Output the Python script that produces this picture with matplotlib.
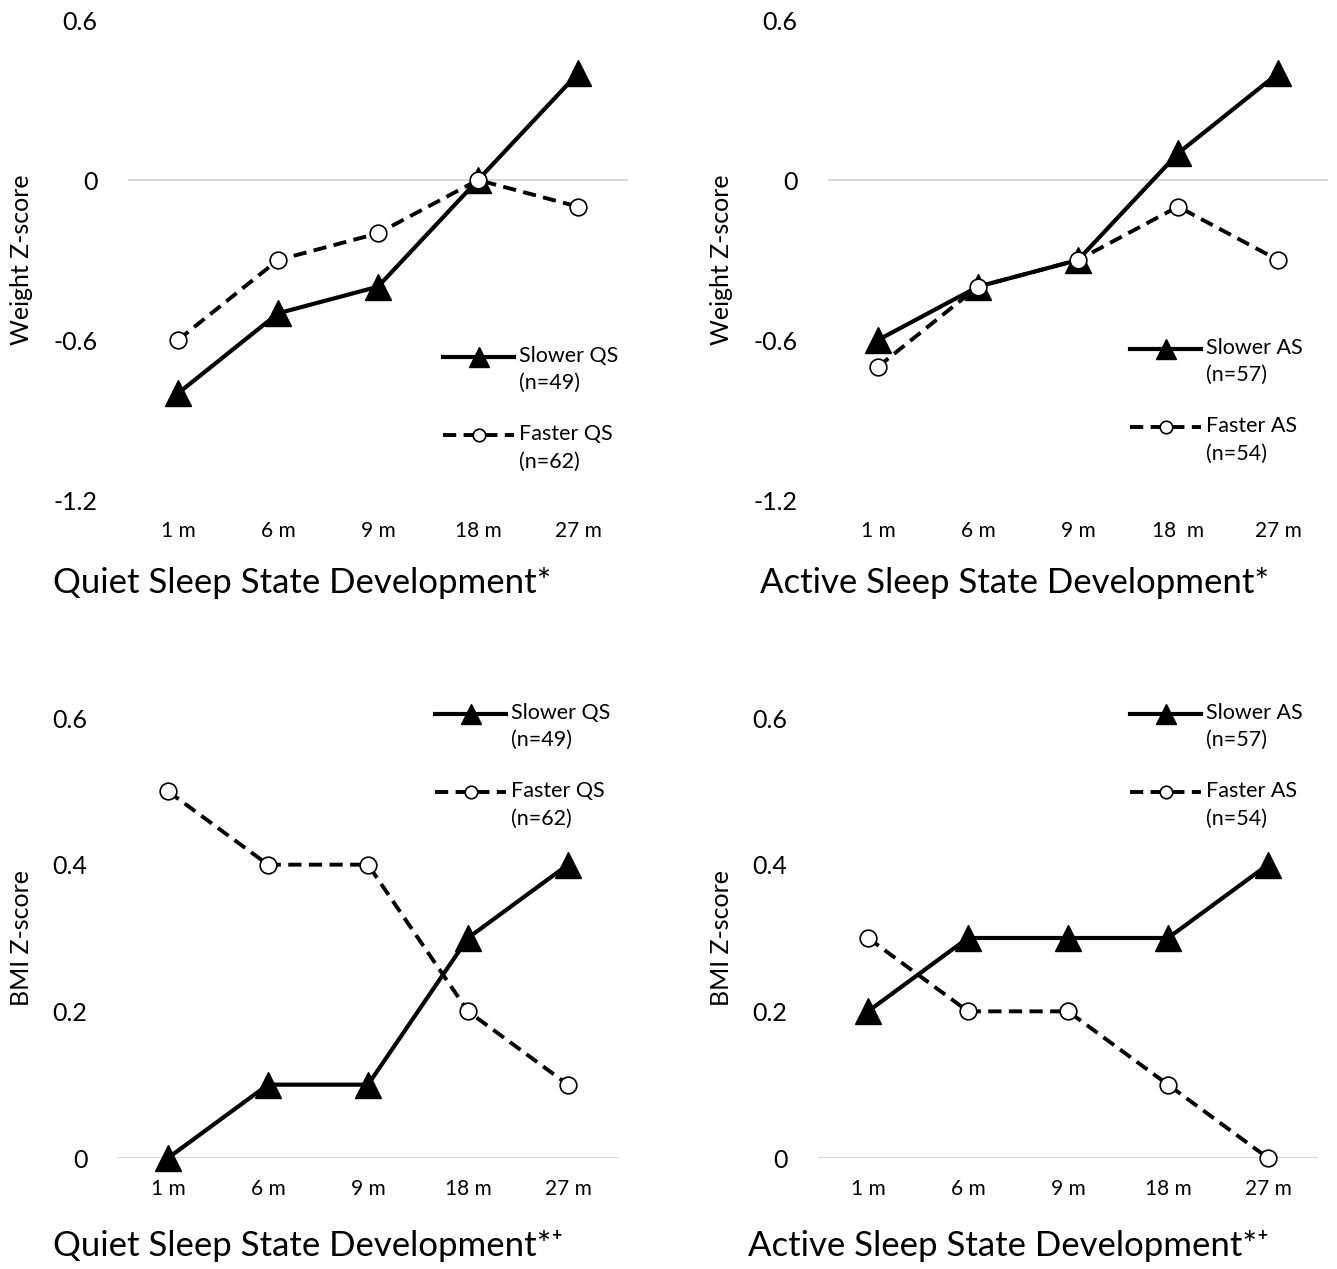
#! /usr/bin/env python3
# -*- coding: utf-8 -*-
"""Weight and BMI z-scores by sleep state development group, four panels."""

import matplotlib
matplotlib.use('Agg')
import matplotlib.pyplot as plt
from matplotlib.legend_handler import HandlerLine2D

plt.rcParams['font.family'] = ['Lato', 'DejaVu Sans']

months = ['1 m', '6 m', '9 m', '18 m', '27 m']
months_as_top = ['1 m', '6 m', '9 m', '18  m', '27 m']

# weight z-score
weight_slower_qs = [-0.8, -0.5, -0.4, 0.0, 0.4]
weight_faster_qs = [-0.6, -0.3, -0.2, 0.0, -0.1]
weight_slower_as = [-0.6, -0.4, -0.3, 0.1, 0.4]
weight_faster_as = [-0.7, -0.4, -0.3, -0.1, -0.3]

# BMI z-score
bmi_slower_qs = [0.0, 0.1, 0.1, 0.3, 0.4]
bmi_faster_qs = [0.5, 0.4, 0.4, 0.2, 0.1]
bmi_slower_as = [0.2, 0.3, 0.3, 0.3, 0.4]
bmi_faster_as = [0.3, 0.2, 0.2, 0.1, 0.0]

weight_ticks = [0.6, 0, -0.6, -1.2]
weight_ticklabels = ['0.6', '0', '-0.6', '-1.2']
bmi_ticks = [0, 0.2, 0.4, 0.6]
bmi_ticklabels = ['0', '0.2', '0.4', '0.6']

W, H = 1337, 1269
fig = plt.figure(figsize=(W / 100, H / 100), dpi=100)
LEG_FS = 15.5


class FirstLineHandler(HandlerLine2D):
    # put the legend line next to the first text line, not the middle
    def create_artists(self, legend, orig_handle, xdescent, ydescent, width,
                       height, fontsize, trans):
        arts = super().create_artists(legend, orig_handle, xdescent, ydescent,
                                      width, height, fontsize, trans)
        for a in arts:
            a.set_ydata([y + 0.62 * fontsize for y in a.get_ydata()])
        return arts


def box(x0, x1, ytop, ybot):
    return [x0 / W, 1 - ybot / H, (x1 - x0) / W, (ybot - ytop) / H]


def panel(rect, xlabels, slower, faster, lab_s, lab_f, ylim, ticks, ticklabels,
          ylabel, ylab_x, leg_xy):
    ax = fig.add_axes(rect)
    x = range(len(xlabels))
    ax.axhline(0, color='#d0d0d0', lw=1.2, zorder=0)
    ax.plot(x, slower, color='black', lw=3.0, marker='^', ms=19,
            markerfacecolor='black', label=lab_s, zorder=3, clip_on=False)
    ax.plot(x, faster, color='black', lw=2.8, ls=(0, (3.4, 1.9)), marker='o', ms=12,
            markerfacecolor='white', markeredgewidth=1.2, label=lab_f, zorder=4,
            clip_on=False)
    ax.set_xlim(-0.5, len(xlabels) - 0.5)
    ax.set_ylim(*ylim)
    ax.set_xticks(list(x))
    ax.set_xticklabels(xlabels, fontsize=15)
    ax.set_yticks(ticks)
    ax.set_yticklabels(ticklabels, fontsize=18)
    ax.tick_params(axis='x', length=0, pad=15)
    ax.tick_params(axis='y', length=0, pad=22)
    for s in ax.spines.values():
        s.set_visible(False)
    ax.set_ylabel(ylabel, fontsize=18)
    ax.yaxis.set_label_coords(ylab_x, 0.5)
    leg = ax.legend(loc='upper left', bbox_to_anchor=(leg_xy[0] / W, 1 - leg_xy[1] / H),
                    bbox_transform=fig.transFigure, frameon=False, fontsize=LEG_FS,
                    handlelength=3.3, handletextpad=0.25, labelspacing=1.45,
                    borderpad=0, borderaxespad=0,
                    handler_map={matplotlib.lines.Line2D: FirstLineHandler()})
    for t in leg.get_texts():
        t.set_linespacing(1.45)
    for h in leg.legend_handles:
        h.set_markersize(h.get_markersize() * 0.75)
    return ax


panel(box(128, 628, 20, 500), months, weight_slower_qs, weight_faster_qs,
      'Slower QS\n(n=49)', 'Faster QS\n(n=62)', (-1.2, 0.6), weight_ticks,
      weight_ticklabels, 'Weight Z-score', -0.19, (443, 346))
panel(box(828, 1328, 20, 500), months_as_top, weight_slower_as, weight_faster_as,
      'Slower AS\n(n=57)', 'Faster AS\n(n=54)', (-1.2, 0.6), weight_ticks,
      weight_ticklabels, 'Weight Z-score', -0.19, (1130, 338))
panel(box(118, 618, 718, 1158), months, bmi_slower_qs, bmi_faster_qs,
      'Slower QS\n(n=49)', 'Faster QS\n(n=62)', (0, 0.6), bmi_ticks,
      bmi_ticklabels, 'BMI Z-score', -0.17, (435, 703))
panel(box(818, 1318, 718, 1158), months, bmi_slower_as, bmi_faster_as,
      'Slower AS\n(n=57)', 'Faster AS\n(n=54)', (0, 0.6), bmi_ticks,
      bmi_ticklabels, 'BMI Z-score', -0.17, (1130, 703))

# panel captions
fig.text(302 / W, 1 - 583 / H, 'Quiet Sleep State Development*', fontsize=25,
         ha='center', va='center')
fig.text(1015 / W, 1 - 583 / H, 'Active Sleep State Development*', fontsize=25,
         ha='center', va='center')
fig.text(308 / W, 1 - 1246 / H, 'Quiet Sleep State Development*\u207a', fontsize=25,
         ha='center', va='center')
fig.text(1008 / W, 1 - 1246 / H, 'Active Sleep State Development*\u207a', fontsize=25,
         ha='center', va='center')

plt.savefig('out.png', dpi=100, facecolor='white')
